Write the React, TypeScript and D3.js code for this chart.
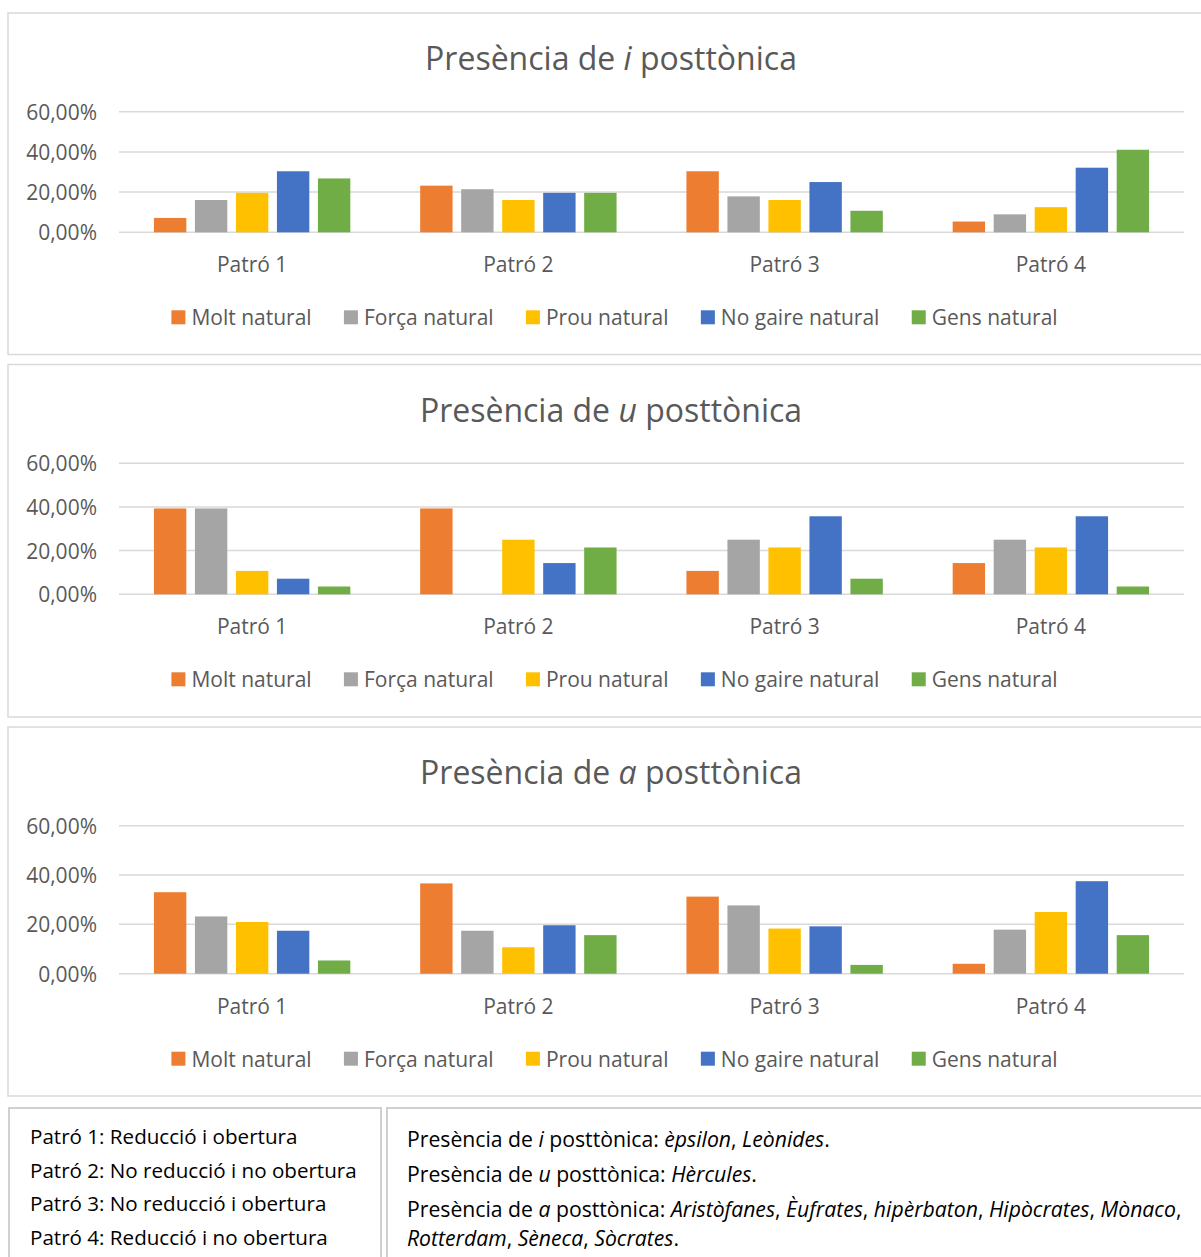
import React from "react";
import * as d3 from "d3";

const patterns = ["Patró 1", "Patró 2", "Patró 3", "Patró 4"];
const seriesNames = ["Molt natural", "Força natural", "Prou natural", "No gaire natural", "Gens natural"];
const seriesColors = ["#ED7D31", "#A5A5A5", "#FFC000", "#4472C4", "#70AD47"];
const yTicks = [0, 20, 40, 60];

// values by pattern, then by series (percent)
const iData = [
  [7.14, 16.07, 19.64, 30.36, 26.79],
  [23.21, 21.43, 16.07, 19.64, 19.64],
  [30.36, 17.86, 16.07, 25.0, 10.71],
  [5.36, 8.93, 12.5, 32.14, 41.07],
];
const uData = [
  [39.29, 39.29, 10.71, 7.14, 3.57],
  [39.29, 0, 25.0, 14.29, 21.43],
  [10.71, 25.0, 21.43, 35.71, 7.14],
  [14.29, 25.0, 21.43, 35.71, 3.57],
];
const aData = [
  [33.04, 23.21, 20.98, 17.41, 5.36],
  [36.61, 17.41, 10.71, 19.64, 15.63],
  [31.25, 27.68, 18.3, 19.2, 3.57],
  [4.02, 17.86, 25.0, 37.5, 15.63],
];

const patternNotes = [
  "Patró 1: Reducció i obertura",
  "Patró 2: No reducció i no obertura",
  "Patró 3: No reducció i obertura",
  "Patró 4: Reducció i no obertura",
];

const FONT = "'Open Sans', 'Noto Sans', sans-serif";
const TEXT = "#595959";
const GRID = "#D9D9D9";

const charts = [
  { letter: "i", data: iData, top: 13, plotBottom: 232.3, height: 341.5 },
  { letter: "u", data: uData, top: 364.5, plotBottom: 594.3, height: 352.5 },
  { letter: "a", data: aData, top: 727, plotBottom: 973.7, height: 369 },
];

const fmt = (v: number) => v.toFixed(2).replace(".", ",") + "%";

function measure(text: string, size: number) {
  if (typeof document === "undefined") return text.length * size * 0.5;
  const c = document.createElement("canvas");
  const ctx = c.getContext("2d")!;
  ctx.font = `${size}px 'Open Sans'`;
  return ctx.measureText(text).width;
}

const PLOT_LEFT = 119;
const PLOT_RIGHT = 1184;
const CENTER_X = 611;
const LEGEND_CENTER_X = 614.5;

function Chart({ cfg }: { cfg: typeof charts[number] }) {
  const { letter, data, top, plotBottom, height } = cfg;
  const plotTop = top + 98.7;
  const x0 = d3.scaleBand<string>().domain(patterns).range([PLOT_LEFT, PLOT_RIGHT]);
  const x1 = d3
    .scaleBand<string>()
    .domain(seriesNames)
    .range([0, x0.bandwidth()])
    .paddingInner(0.21)
    .paddingOuter(0.852);
  const y = d3.scaleLinear().domain([0, 60]).range([plotBottom, plotTop]);

  const legendSize = 21;
  const widths = seriesNames.map((s) => 20 + measure(s, legendSize));
  const gap = 32.3;
  const total = d3.sum(widths) + gap * (widths.length - 1);
  let lx = LEGEND_CENTER_X - total / 2;
  const legendX = widths.map((w) => {
    const v = lx;
    lx += w + gap;
    return v;
  });
  const legendY = plotBottom + 85;

  return (
    <g>
      <rect x={8} y={top} width={1220} height={height} fill="#fff" stroke={GRID} strokeWidth={1.5} />
      <text
        x={CENTER_X}
        y={top + 44}
        textAnchor="middle"
        dominantBaseline="central"
        fontFamily={FONT}
        fontSize={32}
        fill={TEXT}
        style={{ whiteSpace: "pre" }}
      >
        <tspan>{"Presència de "}</tspan>
        <tspan fontStyle="italic">{letter}</tspan>
        <tspan>{" posttònica"}</tspan>
      </text>
      {yTicks.map((t) => (
        <g key={t}>
          <line x1={PLOT_LEFT} x2={PLOT_RIGHT} y1={y(t)} y2={y(t)} stroke={GRID} strokeWidth={1.5} />
          <text
            x={97}
            y={y(t)}
            textAnchor="end"
            dominantBaseline="central"
            fontFamily={FONT}
            fontSize={21}
            fill={TEXT}
          >
            {fmt(t)}
          </text>
        </g>
      ))}
      {patterns.map((p, pi) => (
        <g key={p}>
          {seriesNames.map((s, si) => {
            const v = data[pi][si];
            if (v <= 0) return null;
            return (
              <rect
                key={s}
                x={(x0(p) as number) + (x1(s) as number)}
                y={y(v)}
                width={x1.bandwidth()}
                height={plotBottom - y(v)}
                fill={seriesColors[si]}
              />
            );
          })}
          <text
            x={(x0(p) as number) + x0.bandwidth() / 2}
            y={plotBottom + 32}
            textAnchor="middle"
            dominantBaseline="central"
            fontFamily={FONT}
            fontSize={21}
            fill={TEXT}
          >
            {p}
          </text>
        </g>
      ))}
      {seriesNames.map((s, si) => (
        <g key={s}>
          <rect x={legendX[si]} y={legendY - 7} width={14} height={14} fill={seriesColors[si]} />
          <text
            x={legendX[si] + 20}
            y={legendY}
            dominantBaseline="central"
            fontFamily={FONT}
            fontSize={legendSize}
            fill={TEXT}
          >
            {s}
          </text>
        </g>
      ))}
    </g>
  );
}

export default function App() {
  const noteSize = 20.6;
  const listSize = 21.2;
  return (
    <svg
      width={1201}
      height={1257}
      style={{ position: "absolute", left: 0, top: 0, background: "#fff" }}
    >
      <rect x={0} y={0} width={1201} height={1257} fill="#fff" />
      {charts.map((c) => (
        <Chart key={c.letter} cfg={c} />
      ))}
      <rect x={9} y={1108} width={372} height={200} fill="none" stroke="#D0D0D0" strokeWidth={2} />
      <rect x={387} y={1108} width={840} height={200} fill="none" stroke="#D0D0D0" strokeWidth={2} />
      {patternNotes.map((n, i) => (
        <text
          key={n}
          x={30}
          y={1136 + i * 33.5}
          dominantBaseline="central"
          fontFamily={FONT}
          fontSize={noteSize}
          fill="#000"
        >
          {n}
        </text>
      ))}
      <g fontFamily={FONT} fontSize={listSize} fill="#000" style={{ whiteSpace: "pre" }}>
        <text x={407} y={1138} dominantBaseline="central">
          <tspan>{"Presència de "}</tspan>
          <tspan fontStyle="italic">i</tspan>
          <tspan>{" posttònica: "}</tspan>
          <tspan fontStyle="italic">èpsilon</tspan>
          <tspan>{", "}</tspan>
          <tspan fontStyle="italic">Leònides</tspan>
          <tspan>.</tspan>
        </text>
        <text x={407} y={1173} dominantBaseline="central">
          <tspan>{"Presència de "}</tspan>
          <tspan fontStyle="italic">u</tspan>
          <tspan>{" posttònica: "}</tspan>
          <tspan fontStyle="italic">Hèrcules</tspan>
          <tspan>.</tspan>
        </text>
        <text x={407} y={1208} dominantBaseline="central">
          <tspan>{"Presència de "}</tspan>
          <tspan fontStyle="italic">a</tspan>
          <tspan>{" posttònica: "}</tspan>
          <tspan fontStyle="italic">Aristòfanes</tspan>
          <tspan>{", "}</tspan>
          <tspan fontStyle="italic">Èufrates</tspan>
          <tspan>{", "}</tspan>
          <tspan fontStyle="italic">hipèrbaton</tspan>
          <tspan>{", "}</tspan>
          <tspan fontStyle="italic">Hipòcrates</tspan>
          <tspan>{", "}</tspan>
          <tspan fontStyle="italic">Mònaco</tspan>
          <tspan>,</tspan>
        </text>
        <text x={407} y={1237} dominantBaseline="central">
          <tspan fontStyle="italic">Rotterdam</tspan>
          <tspan>{", "}</tspan>
          <tspan fontStyle="italic">Sèneca</tspan>
          <tspan>{", "}</tspan>
          <tspan fontStyle="italic">Sòcrates</tspan>
          <tspan>.</tspan>
        </text>
      </g>
    </svg>
  );
}
